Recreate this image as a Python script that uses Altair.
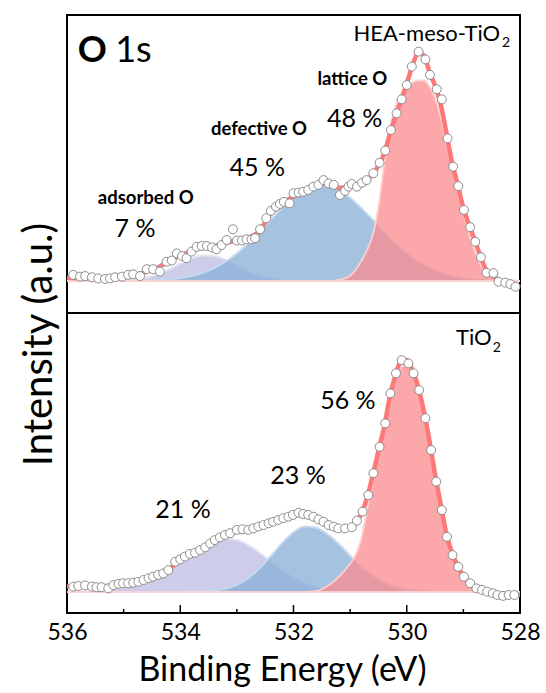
import altair as alt
import pandas as pd

# ---------------- O 1s spectra (binding energy in eV, intensity in a.u.) ----------------
# HEA-meso-TiO2: measured points
hea_energy = [535.89, 535.77, 535.68, 535.56, 535.45, 535.33, 535.24, 535.15, 535.03, 534.92,
              534.83, 534.71, 534.59, 534.48, 534.36, 534.24, 534.15, 534.06, 533.97, 533.89,
              533.80, 533.71, 533.62, 533.53, 533.44, 533.36, 533.27, 533.18, 533.07, 533.00,
              532.91, 532.83, 532.74, 532.68, 532.59, 532.48, 532.40, 532.31, 532.24, 532.17,
              532.07, 532.00, 531.91, 531.83, 531.74, 531.65, 531.56, 531.47, 531.38, 531.29,
              531.18, 531.09, 531.03, 530.97, 530.88, 530.79, 530.71, 530.59, 530.48, 530.38,
              530.28, 530.18, 530.09, 530.00, 529.91, 529.79, 529.67, 529.59, 529.47, 529.38,
              529.28, 529.18, 529.09, 528.99, 528.88, 528.79, 528.69, 528.59, 528.47, 528.38,
              528.26, 528.17, 528.08]
hea_counts = [12.8, 12.2, 12.4, 12.0, 11.6, 11.4, 11.6, 12.0, 12.2, 12.8,
              13.0, 12.4, 14.7, 14.7, 13.9, 17.2, 17.6, 20.0, 19.1, 18.4,
              20.6, 22.2, 22.5, 22.5, 22.0, 21.4, 22.8, 24.5, 28.1, 24.3,
              24.3, 24.7, 24.7, 25.1, 28.1, 31.8, 34.3, 35.7, 36.6, 37.3,
              36.8, 40.2, 40.4, 40.7, 41.3, 42.4, 43.0, 44.6, 43.5, 43.0,
              39.6, 41.0, 42.4, 43.3, 42.4, 43.7, 44.6, 46.9, 50.4, 54.5,
              61.4, 67.0, 71.7, 76.5, 82.7, 87.7, 85.1, 79.9, 75.1, 71.7,
              58.6, 49.1, 42.6, 34.6, 28.8, 23.9, 18.7, 13.5, 13.4, 10.5,
              10.2, 9.7, 8.8]

# HEA-meso-TiO2: fitted envelope
hea_fit_energy = [536.0, 535.6, 535.2, 534.9, 534.6, 534.4, 534.2, 534.0, 533.8, 533.6,
                  533.4, 533.2, 533.0, 532.8, 532.6, 532.4, 532.2, 532.0, 531.8, 531.6,
                  531.4, 531.2, 531.0, 530.8, 530.6, 530.4, 530.3, 530.2, 530.1, 530.0,
                  529.9, 529.8, 529.7, 529.6, 529.5, 529.4, 529.3, 529.2, 529.1, 529.0,
                  528.9, 528.8, 528.7, 528.6, 528.4, 528.2, 528.0]
hea_fit = [11.8, 11.6, 11.7, 12.3, 13.8, 15.2, 17.4, 19.3, 20.8, 22.0,
           22.4, 23.5, 24.3, 25.2, 27.6, 33.4, 36.6, 39.2, 41.0, 42.6,
           43.5, 42.0, 42.4, 43.4, 46.6, 53.5, 60.0, 66.0, 71.2, 77.0,
           83.0, 87.2, 86.5, 81.0, 76.2, 70.0, 60.5, 50.5, 43.2, 35.2,
           29.6, 24.4, 19.2, 14.6, 11.4, 9.9, 8.6]
hea_background = 10.7

# HEA-meso-TiO2: fitted components (height above background)
hea_ads_energy = [536.0, 535.4, 535.2, 535.0, 534.8, 534.6, 534.4, 534.2, 534.0, 533.8,
                  533.6, 533.4, 533.2, 533.0, 532.8, 532.6, 532.4, 532.2, 532.0, 531.8, 528.0]
hea_ads = [0, 0, 0.1, 0.2, 0.5, 1.1, 2.3, 3.9, 5.9, 7.6,
           8.6, 8.4, 7.2, 5.3, 3.4, 1.9, 0.9, 0.4, 0.1, 0, 0]

hea_def_energy = [536.0, 534.8, 534.6, 534.4, 534.2, 534.0, 533.8, 533.6, 533.4, 533.2,
                  533.0, 532.8, 532.6, 532.4, 532.2, 532.0, 531.8, 531.6, 531.4, 531.2,
                  531.0, 530.8, 530.6, 530.4, 530.2, 530.0, 529.8, 529.6, 529.4, 529.2,
                  529.0, 528.8, 528.6, 528.4, 528.2, 528.0]
hea_def = [0, 0.1, 0.2, 0.3, 0.6, 1.0, 1.7, 2.8, 4.4, 6.5,
           9.3, 12.6, 16.5, 20.6, 24.5, 28.0, 30.6, 32.0, 32.0, 30.6,
           28.0, 24.5, 20.6, 16.5, 12.6, 9.3, 6.5, 4.4, 2.8, 1.7,
           1.0, 0.6, 0.3, 0.2, 0.1, 0]

hea_lat_energy = [536.0, 531.4, 531.2, 531.0, 530.8, 530.7, 530.6, 530.5, 530.4, 530.3,
                  530.2, 530.1, 530.0, 529.9, 529.8, 529.7, 529.6, 529.5, 529.4, 529.3,
                  529.2, 529.1, 529.0, 528.9, 528.8, 528.7, 528.6, 528.4, 528.0]
hea_lat = [0, 0, 0.4, 1.8, 6.8, 10.5, 15.5, 25.0, 39.0, 50.5,
           58.7, 62.8, 65.2, 66.6, 67.3, 67.4, 65.4, 61.5, 55.0, 46.8,
           39.0, 31.0, 22.8, 15.9, 10.2, 5.8, 3.0, 0.3, 0]

# TiO2: measured points
tio_energy = [535.89, 535.80, 535.68, 535.56, 535.48, 535.39, 535.27, 535.18, 535.09, 535.01,
              534.92, 534.83, 534.74, 534.65, 534.56, 534.48, 534.39, 534.30, 534.21, 534.09,
              534.00, 533.92, 533.83, 533.74, 533.65, 533.56, 533.47, 533.39, 533.30, 533.21,
              533.12, 533.00, 532.90, 532.80, 532.71, 532.62, 532.53, 532.44, 532.36, 532.27,
              532.18, 532.09, 532.01, 531.91, 531.83, 531.74, 531.65, 531.56, 531.47, 531.38,
              531.29, 531.21, 531.09, 530.97, 530.88, 530.78, 530.68, 530.59, 530.48, 530.38,
              530.29, 530.19, 530.09, 529.97, 529.88, 529.78, 529.67, 529.57, 529.48, 529.38,
              529.29, 529.19, 529.09, 528.99, 528.88, 528.77, 528.67, 528.58, 528.48, 528.40,
              528.30, 528.20, 528.10]
tio_counts = [8.8, 9.0, 9.2, 8.8, 8.6, 8.6, 8.2, 9.3, 9.7, 9.9,
              9.9, 10.1, 10.4, 11.0, 11.6, 12.1, 12.7, 13.2, 14.3, 17.1,
              17.9, 18.8, 19.7, 20.1, 21.0, 21.9, 23.2, 24.3, 25.2, 26.0,
              26.6, 27.7, 27.9, 27.7, 28.2, 28.8, 29.3, 29.9, 30.4, 31.0,
              31.6, 32.1, 32.7, 33.4, 33.0, 32.7, 32.1, 31.2, 30.4, 29.3,
              28.8, 28.2, 28.2, 28.6, 30.8, 33.8, 39.3, 46.6, 55.4, 63.2,
              73.2, 79.9, 84.3, 83.2, 79.9, 74.3, 64.9, 54.3, 43.8, 34.3,
              25.4, 19.3, 15.4, 12.1, 9.9, 8.2, 7.7, 7.1, 6.6, 6.0,
              5.7, 6.0, 6.0]

# TiO2: fitted envelope
tio_fit_energy = [536.0, 535.6, 535.2, 535.0, 534.8, 534.6, 534.4, 534.2, 534.0, 533.8,
                  533.6, 533.4, 533.2, 533.0, 532.8, 532.6, 532.4, 532.2, 532.0, 531.9,
                  531.8, 531.6, 531.4, 531.2, 531.0, 530.9, 530.8, 530.7, 530.6, 530.5,
                  530.4, 530.3, 530.2, 530.1, 530.0, 529.9, 529.8, 529.7, 529.6, 529.5,
                  529.4, 529.3, 529.2, 529.1, 529.0, 528.9, 528.8, 528.6, 528.4, 528.2, 528.0]
tio_fit = [8.9, 8.9, 9.1, 9.7, 10.2, 11.3, 12.6, 14.6, 17.5, 19.8,
           21.5, 23.8, 25.8, 27.3, 27.9, 28.9, 30.1, 31.4, 32.7, 33.2,
           33.0, 31.8, 29.9, 28.4, 28.4, 30.0, 33.2, 38.5, 46.0, 54.0,
           61.8, 72.0, 79.3, 84.0, 84.3, 81.0, 75.5, 67.5, 57.5, 46.2,
           36.3, 26.4, 19.9, 15.7, 12.3, 10.2, 8.7, 7.3, 6.3, 6.0, 6.0]
tio_background = 7.0

# TiO2: fitted components (height above background)
tio_ads_energy = [536.0, 535.8, 535.6, 535.4, 535.2, 535.0, 534.8, 534.6, 534.4, 534.2,
                  534.0, 533.8, 533.6, 533.4, 533.2, 533.0, 532.8, 532.6, 532.4, 532.2,
                  532.0, 531.8, 531.6, 531.4, 531.2, 531.0, 530.8, 530.4, 528.0]
tio_ads = [0, 0.1, 0.2, 0.5, 0.9, 1.5, 2.5, 3.9, 5.8, 8.1,
           10.6, 13.1, 15.4, 17.0, 17.7, 17.3, 15.6, 13.1, 10.1, 7.3,
           4.8, 3.0, 1.7, 0.9, 0.4, 0.2, 0.1, 0, 0]

tio_def_energy = [536.0, 534.0, 533.8, 533.6, 533.4, 533.2, 533.0, 532.8, 532.6, 532.4,
                  532.2, 532.0, 531.8, 531.6, 531.4, 531.2, 531.0, 530.8, 530.6, 530.4,
                  530.2, 530.0, 529.8, 529.6, 529.4, 529.0, 528.0]
tio_def = [0, 0, 0.1, 0.2, 0.5, 1.1, 2.4, 4.6, 7.8, 12.0,
           16.3, 19.9, 21.8, 21.4, 19.3, 16.0, 12.1, 8.4, 5.4, 3.1,
           1.7, 0.8, 0.4, 0.2, 0.1, 0, 0]

tio_lat_energy = [536.0, 531.8, 531.6, 531.4, 531.2, 531.0, 530.9, 530.8, 530.7, 530.6,
                  530.5, 530.4, 530.3, 530.2, 530.1, 530.0, 529.9, 529.8, 529.7, 529.6,
                  529.5, 529.4, 529.3, 529.2, 529.1, 529.0, 528.9, 528.8, 528.7, 528.6,
                  528.4, 528.0]
tio_lat = [0, 0, 0.3, 2.0, 5.0, 9.5, 12.5, 18.0, 27.5, 37.0,
           48.8, 56.5, 64.5, 71.5, 75.0, 75.6, 73.8, 69.0, 61.0, 51.5,
           41.0, 30.0, 21.0, 14.5, 8.8, 4.8, 2.5, 1.2, 0.4, 0.1,
           0, 0]

# axis ticks and labels
tick_labels = [536, 534, 532, 530, 528]
major_ticks = [534, 532, 530]
minor_ticks = [535, 533, 531, 529]

# ---------------- layout / style ----------------
FONT = "Lato"
W = 453
TOP_H, BOT_H = 298, 300
H = TOP_H + BOT_H

LAT_FILL, LAT_EDGE = "#FB8B8E", "#FFD2D2"
DEF_FILL, DEF_EDGE = "#87AFD7", "#C4DAF0"
ADS_FILL, ADS_EDGE = "#BCBCE1", "#E2E2F4"
FIT_COLOR = "#FF7878"

x_axis = alt.Axis(values=tick_labels, format="d", title="Binding Energy (eV)",
                  domain=False, ticks=False, tickSize=0, grid=False,
                  labelFont=FONT, labelFontSize=23, labelColor="black",
                  labelPadding=26, labelBaseline="alphabetic",
                  labelFlush=False, labelOverlap=False,
                  titleFont=FONT, titleFontSize=34, titleFontWeight="normal",
                  titleColor="black", titleBaseline="alphabetic", titleAlign="center",
                  titleX=215, titleY=67)
X = alt.X("E:Q", scale=alt.Scale(domain=[528, 536], reverse=True, nice=False, zero=False),
          axis=x_axis)

# each panel spans 100 a.u. over its own height
top_scale = alt.Scale(domain=[-BOT_H / 2.98, 100], nice=False, zero=False)
bot_scale = alt.Scale(domain=[0, H / 3.0], nice=False, zero=False)
Y_TOP = alt.Y("I:Q", scale=top_scale, axis=None)
Y_BOT = alt.Y("I:Q", scale=bot_scale,
              axis=alt.Axis(title="Intensity (a.u.)", labels=False, ticks=False,
                            domain=False, grid=False, titleFont=FONT, titleFontSize=40,
                            titleFontWeight="normal", titleColor="black",
                            titleAngle=270, titleAlign="center",
                            titleBaseline="alphabetic", titleX=-16, titleY=329))


def component(energy, height, base, fill, edge, Y):
    df = pd.DataFrame({"E": energy, "I": [base + h for h in height], "base": base})
    return alt.Chart(df).mark_area(
        interpolate="monotone", fill=fill, fillOpacity=0.75,
        stroke=edge, strokeWidth=2, strokeOpacity=0.9
    ).encode(x=X, y=Y, y2="base:Q")


def envelope(energy, values, Y):
    df = pd.DataFrame({"E": energy, "I": values})
    return alt.Chart(df).mark_line(
        interpolate="monotone", color=FIT_COLOR, strokeWidth=4.5
    ).encode(x=X, y=Y)


def points(energy, values, Y):
    df = pd.DataFrame({"E": energy, "I": values})
    return alt.Chart(df).mark_point(
        shape="circle", filled=False, fill="white", fillOpacity=1,
        stroke="#8c8c8c", strokeWidth=1, size=80, opacity=1
    ).encode(x=X, y=Y)


def label(rows, Y, size, weight="normal", align="center"):
    df = pd.DataFrame(rows, columns=["E", "I", "t"])
    return alt.Chart(df).mark_text(
        font=FONT, fontSize=size, fontWeight=weight, align=align,
        baseline="alphabetic", color="black"
    ).encode(x=X, y=Y, text="t:N")


top = alt.layer(
    component(hea_ads_energy, hea_ads, hea_background, ADS_FILL, ADS_EDGE, Y_TOP),
    component(hea_def_energy, hea_def, hea_background, DEF_FILL, DEF_EDGE, Y_TOP),
    component(hea_lat_energy, hea_lat, hea_background, LAT_FILL, LAT_EDGE, Y_TOP),
    envelope(hea_fit_energy, hea_fit, Y_TOP),
    points(hea_energy, hea_counts, Y_TOP),
    label([[535.81, 84.2, "O"]], Y_TOP, 36, "bold", "left"),
    label([[535.15, 84.2, "1s"]], Y_TOP, 36, "normal", "left"),
    label([[528.35, 91.4, "HEA-meso-TiO"]], Y_TOP, 22, "normal", "right"),
    label([[528.32, 89.4, "2"]], Y_TOP, 14, "normal", "left"),
    label([[530.96, 76.5, "lattice O"], [532.61, 59.7, "defective O"],
           [534.61, 36.6, "adsorbed O"]], Y_TOP, 18.5, "bold"),
    label([[530.92, 62.4, "48 %"], [532.64, 46.0, "45 %"], [534.80, 25.5, "7 %"]],
          Y_TOP, 25),
    # divider between the two panels
    alt.Chart(pd.DataFrame({"E": [536]})).mark_rule(color="black", strokeWidth=2).encode(
        x=alt.value(0), x2=alt.value(W), y=alt.value(TOP_H)),
)

tick_df = pd.DataFrame({"E": major_ticks + minor_ticks,
                        "kind": ["major"] * len(major_ticks) + ["minor"] * len(minor_ticks)})

bottom = alt.layer(
    component(tio_ads_energy, tio_ads, tio_background, ADS_FILL, ADS_EDGE, Y_BOT),
    component(tio_def_energy, tio_def, tio_background, DEF_FILL, DEF_EDGE, Y_BOT),
    component(tio_lat_energy, tio_lat, tio_background, LAT_FILL, LAT_EDGE, Y_BOT),
    envelope(tio_fit_energy, tio_fit, Y_BOT),
    points(tio_energy, tio_counts, Y_BOT),
    label([[528.50, 89.3, "TiO"]], Y_BOT, 22, "normal", "right"),
    label([[528.48, 87.1, "2"]], Y_BOT, 14, "normal", "left"),
    label([[531.04, 68.0, "56 %"], [531.92, 43.0, "23 %"], [533.95, 31.6, "21 %"]],
          Y_BOT, 25),
    # inward ticks on the energy axis
    alt.Chart(tick_df).transform_filter(alt.datum.kind == "major").mark_rule(
        color="black", strokeWidth=1.5).encode(
        x=X, y=alt.value(H), y2=alt.value(H - 8)),
    alt.Chart(tick_df).transform_filter(alt.datum.kind == "minor").mark_rule(
        color="black", strokeWidth=1.5).encode(
        x=X, y=alt.value(H), y2=alt.value(H - 4)),
)

chart = alt.layer(top, bottom).resolve_scale(y="independent").properties(
    width=W, height=H,
    autosize=alt.AutoSizeParams(type="none"),
    padding={"left": 67, "top": 15, "right": 26, "bottom": 80},
    background="white",
).configure_view(stroke="black", strokeWidth=2)

chart.save("out.html", embed_options={"renderer": "svg", "actions": False})
